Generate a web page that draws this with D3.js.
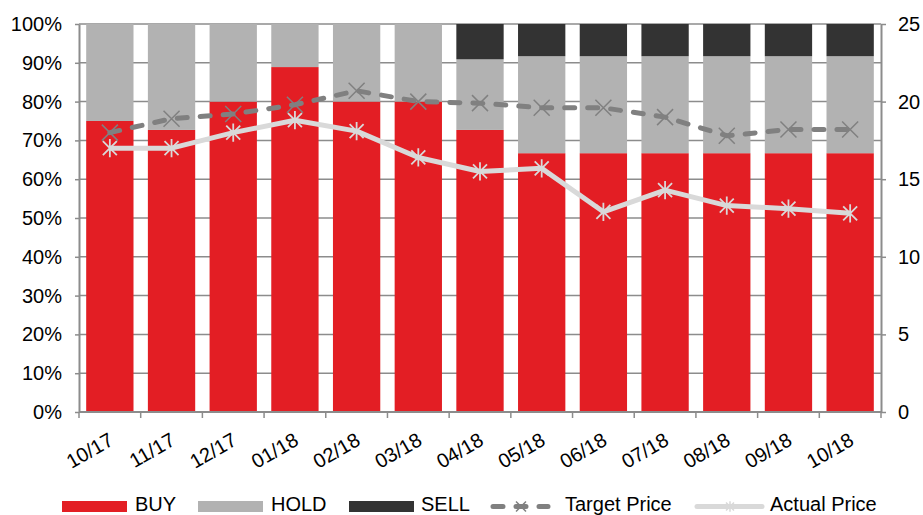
<!DOCTYPE html>
<html><head><meta charset="utf-8">
<script src="https://cdn.jsdelivr.net/npm/d3@7"></script>
<style>body{margin:0;background:#fff}svg{display:block;font-family:"Liberation Sans",Arial,sans-serif}</style>
</head><body><svg id="c" width="923" height="515"></svg>
<script>
const categories = ["10/17","11/17","12/17","01/18","02/18","03/18","04/18","05/18","06/18","07/18","08/18","09/18","10/18"];
const buy  = [75.0,72.7,80.0,88.9,80.0,80.0,72.7,66.7,66.7,66.7,66.7,66.7,66.7];
const hold = [25.0,27.3,20.0,11.1,20.0,20.0,18.2,25.0,25.0,25.0,25.0,25.0,25.0];
const sell = [0,0,0,0,0,0,9.1,8.3,8.3,8.3,8.3,8.3,8.3];
const targetPrice = [18.0,18.9,19.2,19.8,20.7,20.0,19.9,19.6,19.6,19.0,17.8,18.2,18.2];
const actualPrice = [17.0,17.0,18.0,18.8,18.1,16.4,15.5,15.7,12.9,14.3,13.3,13.1,12.8];
const leftTicks = [0,10,20,30,40,50,60,70,80,90,100];
const rightTicks = [0,5,10,15,20,25];

const svg = d3.select("#c");
const L = 79, R = 881, T = 24, B = 412;
const x = d3.scaleBand().domain(categories).range([L, R]).paddingInner(0.233).paddingOuter(0.1165);
const y = d3.scaleLinear().domain([0, 100]).range([B, T]);
const y2 = d3.scaleLinear().domain([0, 25]).range([B, T]);
const gridC = "#8c8c8c", axisC = "#8c8c8c";
const cols = {BUY:"#e31e24", HOLD:"#b2b2b2", SELL:"#333333"};

// gridlines
svg.append("g").selectAll("line").data(leftTicks).join("line")
  .attr("x1", L).attr("x2", R).attr("y1", d => y(d)).attr("y2", d => y(d))
  .attr("stroke", gridC).attr("stroke-width", 1.5);

// stacked bars
const rows = categories.map((c, i) => ({cat: c, BUY: buy[i], HOLD: hold[i], SELL: sell[i]}));
const stack = d3.stack().keys(["BUY","HOLD","SELL"])(rows);
svg.append("g").selectAll("g").data(stack).join("g").attr("fill", s => cols[s.key])
  .selectAll("rect").data(s => s).join("rect")
  .attr("x", d => x(d.data.cat)).attr("width", x.bandwidth())
  .attr("y", d => y(d[1])).attr("height", d => Math.max(0, y(d[0]) - y(d[1])));

// left axis
const ga = svg.append("g").attr("transform", `translate(${L},0)`)
  .call(d3.axisLeft(y).tickValues(leftTicks).tickSize(4).tickSizeOuter(0).tickPadding(13).tickFormat(d => d + "%"));
ga.select(".domain").attr("stroke", axisC).attr("stroke-width", 2);
ga.selectAll(".tick line").attr("stroke", axisC).attr("stroke-width", 1.5);
ga.selectAll("text").attr("font-size", 20).attr("fill", "#000").attr("font-family", "Liberation Sans, Arial");

// right axis
const gr = svg.append("g").attr("transform", `translate(${R},0)`)
  .call(d3.axisRight(y2).tickValues(rightTicks).tickSize(5).tickSizeOuter(0).tickPadding(12));
gr.select(".domain").attr("stroke", axisC).attr("stroke-width", 2);
gr.selectAll(".tick line").attr("stroke", axisC).attr("stroke-width", 1.5);
gr.selectAll("text").attr("font-size", 20).attr("fill", "#000").attr("font-family", "Liberation Sans, Arial");

// bottom axis
svg.append("line").attr("x1", L).attr("x2", R).attr("y1", B).attr("y2", B).attr("stroke", axisC).attr("stroke-width", 2);
const bounds = categories.map(c => x(c) + x.bandwidth()/2 - x.step()/2).concat([R]);
svg.append("g").selectAll("line").data(bounds).join("line")
  .attr("x1", d => d).attr("x2", d => d).attr("y1", B).attr("y2", B + 6)
  .attr("stroke", axisC).attr("stroke-width", 1.5);
svg.append("g").selectAll("text").data(categories).join("text")
  .attr("transform", d => `translate(${x(d) + x.bandwidth()/2 + 5},${B + 32}) rotate(-30)`)
  .attr("text-anchor", "end").attr("font-size", 20).attr("fill", "#000").text(d => d);

// lines
const cx = i => x(categories[i]) + x.bandwidth()/2;
const xMark = (s) => `M${-s},${-s}L${s},${s}M${-s},${s}L${s},${-s}`;
const starMark = (s) => `M${-s},${-s}L${s},${s}M${-s},${s}L${s},${-s}M0,${-s*1.3}L0,${s*1.3}`;

const line = d3.line().x((d, i) => cx(i)).y(d => y2(d));
svg.append("path").datum(targetPrice).attr("d", line).attr("fill", "none")
  .attr("stroke", "#808080").attr("stroke-width", 5).attr("stroke-dasharray", "10,13").attr("stroke-linecap", "round");
svg.append("g").selectAll("path").data(targetPrice).join("path")
  .attr("transform", (d, i) => `translate(${cx(i)},${y2(d)})`).attr("d", xMark(8))
  .attr("stroke", "#808080").attr("stroke-width", 1.5).attr("fill", "none");

svg.append("path").datum(actualPrice).attr("d", line).attr("fill", "none")
  .attr("stroke", "#d9d9d9").attr("stroke-width", 5).attr("stroke-linejoin", "round");
svg.append("g").selectAll("path").data(actualPrice).join("path")
  .attr("transform", (d, i) => `translate(${cx(i)},${y2(d)})`).attr("d", starMark(7))
  .attr("stroke", "#d9d9d9").attr("stroke-width", 1.8).attr("fill", "none");

// legend
const lg = svg.append("g");
const ly = 506.5, tb = 510.5;
const boxes = [{k:"BUY", x:62, tx:135}, {k:"HOLD", x:198, tx:271}, {k:"SELL", x:349, tx:421}];
boxes.forEach(b => {
  lg.append("rect").attr("x", b.x).attr("y", ly - 5.5).attr("width", 65).attr("height", 11).attr("fill", cols[b.k]);
  lg.append("text").attr("x", b.tx).attr("y", tb).attr("font-size", 20).attr("fill", "#000").text(b.k);
});
lg.append("line").attr("x1", 493).attr("x2", 548).attr("y1", ly).attr("y2", ly)
  .attr("stroke", "#808080").attr("stroke-width", 5).attr("stroke-dasharray", "10,13").attr("stroke-linecap", "round");
lg.append("path").attr("transform", `translate(521,${ly})`).attr("d", xMark(5)).attr("stroke", "#808080").attr("stroke-width", 1.5);
lg.append("text").attr("x", 565).attr("y", tb).attr("font-size", 20).attr("fill", "#000").text("Target Price");
lg.append("line").attr("x1", 697).attr("x2", 762).attr("y1", ly).attr("y2", ly)
  .attr("stroke", "#d9d9d9").attr("stroke-width", 5).attr("stroke-linecap", "round");
lg.append("path").attr("transform", `translate(730,${ly})`).attr("d", starMark(4)).attr("stroke", "#d9d9d9").attr("stroke-width", 1.5);
lg.append("text").attr("x", 770).attr("y", tb).attr("font-size", 20).attr("fill", "#000").text("Actual Price");
</script></body></html>
